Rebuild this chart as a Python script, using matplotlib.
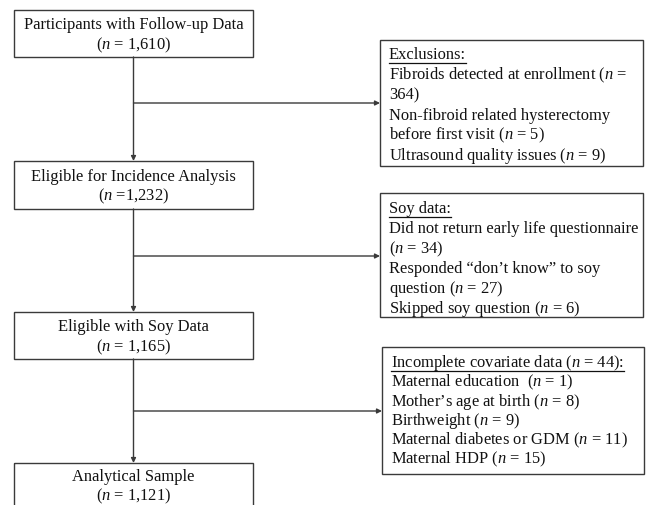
import matplotlib
matplotlib.use("Agg")
import matplotlib.pyplot as plt
from matplotlib.patches import Rectangle

plt.rcParams['font.family'] = ['Liberation Serif', 'DejaVu Serif']
plt.rcParams['mathtext.fontset'] = 'custom'
plt.rcParams['mathtext.rm'] = 'Liberation Serif'
plt.rcParams['mathtext.it'] = 'Liberation Serif:italic'

# ---- content ----
main_titles = ["Participants with Follow-up Data", "Eligible for Incidence Analysis",
               "Eligible with Soy Data", "Analytical Sample"]
main_counts = ["($n$ = 1,610)", "($n$ =1,232)", "($n$ = 1,165)", "($n$ = 1,121)"]

side_headers = ["Exclusions:", "Soy data:", "Incomplete covariate data ($n$ = 44):"]
side_lines = [
    ["Fibroids detected at enrollment ($n$ =", "364)",
     "Non-fibroid related hysterectomy", "before first visit ($n$ = 5)",
     "Ultrasound quality issues ($n$ = 9)"],
    ["Did not return early life questionnaire", "($n$ = 34)",
     "Responded \u201cdon\u2019t know\u201d to soy", "question ($n$ = 27)",
     "Skipped soy question ($n$ = 6)"],
    ["Maternal education  ($n$ = 1)", "Mother\u2019s age at birth ($n$ = 8)",
     "Birthweight ($n$ = 9)", "Maternal diabetes or GDM ($n$ = 11)",
     "Maternal HDP ($n$ = 15)"],
]

# ---- layout (pixel coordinates) ----
W, H = 646, 505
fig = plt.figure(figsize=(W / 100, H / 100), dpi=100)
ax = fig.add_axes([0, 0, 1, 1])
ax.set_xlim(0, W)
ax.set_ylim(H, 0)
ax.axis('off')

ec = '#3a3a3a'
tc = '#111111'
lw = 1.0
fs = 11.9

main_boxes = [(14, 10, 253, 57), (14, 161, 253, 209), (14, 312, 253, 359), (14, 463, 253, 530)]
main_text_y = [(25, 45), (177, 196), (327, 347), (477, 496)]
side_boxes = [(380, 40, 643, 166), (380, 193, 643, 317), (382, 347, 644, 474)]
side_first_y = [55, 209, 363]
side_step = [20.2, 20.0, 19.3]
branch_y = [103, 256, 411]
cx = 133.5

for (x0, y0, x1, y1), title, cnt, (ty1, ty2) in zip(main_boxes, main_titles, main_counts, main_text_y):
    ax.add_patch(Rectangle((x0, y0), x1 - x0, y1 - y0, fill=False, ec=ec, lw=lw))
    ax.text(cx, ty1, title, ha='center', va='center', fontsize=fs, color=tc)
    ax.text(cx, ty2, cnt, ha='center', va='center', fontsize=fs, color=tc)

header_texts = []
for (x0, y0, x1, y1), hdr, lines, fy, st in zip(side_boxes, side_headers, side_lines, side_first_y, side_step):
    ax.add_patch(Rectangle((x0, y0), x1 - x0, y1 - y0, fill=False, ec=ec, lw=lw))
    t = ax.text(x0 + 9, fy, hdr, ha='left', va='center', fontsize=fs, color=tc)
    header_texts.append((t, fy))
    for i, ln in enumerate(lines):
        ax.text(x0 + 9, fy + st * (i + 1), ln, ha='left', va='center', fontsize=fs, color=tc)

arrow_kw = dict(arrowstyle='-|>', color=ec, lw=lw, mutation_scale=7, shrinkA=0, shrinkB=0)
for i in range(3):
    y_start = main_boxes[i][3]
    y_end = main_boxes[i + 1][1]
    ax.annotate('', xy=(cx, y_end), xytext=(cx, y_start), arrowprops=arrow_kw)
    ax.annotate('', xy=(side_boxes[i][0], branch_y[i]), xytext=(cx, branch_y[i]), arrowprops=arrow_kw)

# underline headers
fig.canvas.draw()
r = fig.canvas.get_renderer()
inv = ax.transData.inverted()
for t, fy in header_texts:
    bb = t.get_window_extent(renderer=r)
    (xa, _), (xb, _) = inv.transform([(bb.x0, bb.y0), (bb.x1, bb.y0)])
    ax.plot([xa, xb], [fy + 8, fy + 8], color=tc, lw=0.9)

fig.savefig('out.png', dpi=100)
